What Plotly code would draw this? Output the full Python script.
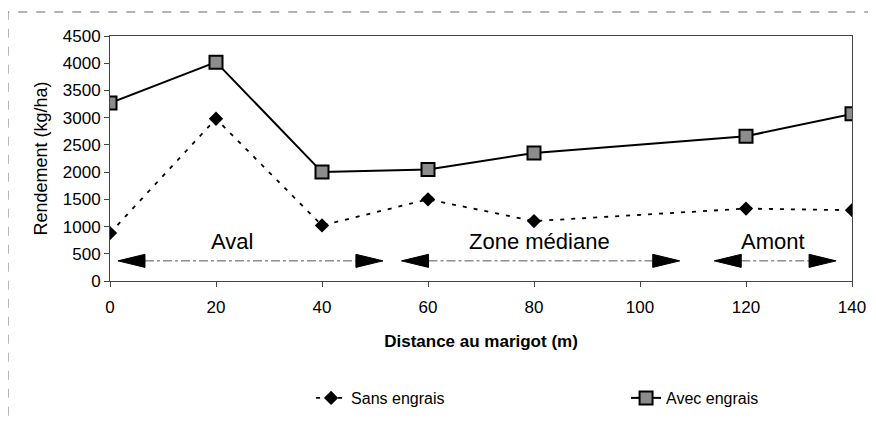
import plotly.graph_objects as go

# ---- data ----
distance = [0, 20, 40, 60, 80, 120, 140]
sans_engrais = [880, 2980, 1020, 1500, 1100, 1330, 1300]
avec_engrais = [3270, 4020, 2000, 2050, 2350, 2660, 3070]

x_ticks = [0, 20, 40, 60, 80, 100, 120, 140]
y_ticks = [0, 500, 1000, 1500, 2000, 2500, 3000, 3500, 4000, 4500]

zone_names = ["Aval", "Zone médiane", "Amont"]
zone_start = [1.5, 55, 114]
zone_end = [51.5, 107.5, 137]
zone_level = 370
zone_label_x = [23, 81, 125]
zone_label_y = 730

FONT = "Liberation Sans, Arial, sans-serif"
HEAD_LEN = 5.1     # arrowhead length (x units)
HEAD_HALF = 120    # arrowhead half height (y units)

fig = go.Figure()

# zone arrows: shafts
shaft_x, shaft_y = [], []
for s, e in zip(zone_start, zone_end):
    shaft_x += [s + HEAD_LEN, e - HEAD_LEN, None]
    shaft_y += [zone_level, zone_level, None]
fig.add_trace(go.Scatter(x=shaft_x, y=shaft_y, mode="lines",
                         line=dict(color="#555555", width=1, dash="dashdot"),
                         showlegend=False, hoverinfo="skip"))
# zone arrows: heads
head_x, head_y = [], []
for s, e in zip(zone_start, zone_end):
    head_x += [s, s + HEAD_LEN, s + HEAD_LEN, s, None]
    head_y += [zone_level, zone_level + HEAD_HALF, zone_level - HEAD_HALF, zone_level, None]
    head_x += [e, e - HEAD_LEN, e - HEAD_LEN, e, None]
    head_y += [zone_level, zone_level + HEAD_HALF, zone_level - HEAD_HALF, zone_level, None]
fig.add_trace(go.Scatter(x=head_x, y=head_y, mode="lines", fill="toself",
                         fillcolor="black", line=dict(color="black", width=1),
                         showlegend=False, hoverinfo="skip"))

fig.add_trace(go.Scatter(
    x=distance, y=sans_engrais, name="Sans engrais", mode="lines+markers",
    line=dict(color="black", width=1.8, dash="4px,7px"),
    marker=dict(symbol="diamond", size=11, color="black"),
    legend="legend",
))
fig.add_trace(go.Scatter(
    x=distance, y=avec_engrais, name="Avec engrais", mode="lines+markers",
    line=dict(color="black", width=2),
    marker=dict(symbol="square", size=13, color="#8c8c8c",
                line=dict(color="black", width=2)),
    legend="legend2",
))

for name, lx in zip(zone_names, zone_label_x):
    fig.add_annotation(x=lx, y=zone_label_y, text=name, showarrow=False,
                       font=dict(family=FONT, size=22, color="black"))

# outer frame
fig.add_shape(type="rect", xref="paper", yref="paper",
              x0=-0.1375, x1=1.3, y0=-1.0, y1=1.098,
              line=dict(color="#666666", width=1, dash="dash"), layer="below")

legend_common = dict(orientation="h", yref="container", y=0.058,
                     xanchor="left", yanchor="middle",
                     font=dict(family=FONT, size=16, color="black"),
                     bgcolor="rgba(0,0,0,0)")

fig.update_layout(
    width=860, height=414,
    margin=dict(l=102, r=16, t=28, b=141),
    paper_bgcolor="white", plot_bgcolor="white",
    font=dict(family=FONT, size=17, color="black"),
    showlegend=True,
    legend=dict(x=0.271, **legend_common),
    legend2=dict(x=0.6955, **legend_common),
    xaxis=dict(range=[0, 140], tickvals=x_ticks, ticktext=[str(v) for v in x_ticks],
               showgrid=False, zeroline=False, showline=True, mirror=True,
               linecolor="#444444", linewidth=1, ticks="outside", ticklen=5,
               tickcolor="#444444", ticklabelstandoff=6, automargin=False,
               title=dict(text="<b>Distance au marigot (m)</b>", standoff=18,
                          font=dict(family=FONT, size=17))),
    yaxis=dict(range=[0, 4500], tickvals=y_ticks, ticktext=[str(v) for v in y_ticks],
               showgrid=False, zeroline=False, showline=True, mirror=True,
               linecolor="#444444", linewidth=1, ticks="outside", ticklen=5,
               tickcolor="#444444", automargin=False,
               title=dict(text="Rendement (kg/ha)", standoff=10,
                          font=dict(family=FONT, size=18))),
)

fig.write_html("out.html")
